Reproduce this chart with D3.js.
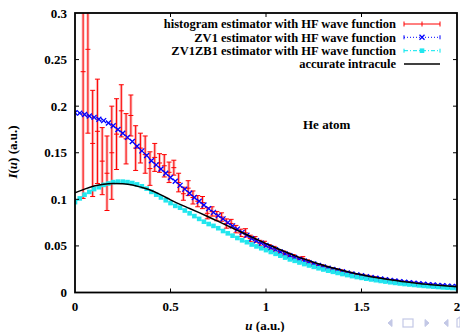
<!DOCTYPE html>
<html>
<head>
<meta charset="utf-8">
<script src="https://cdn.jsdelivr.net/npm/d3@7"></script>
<style>
  body { margin: 0; background: #fff; }
  text { font-family: "Liberation Serif", "Times New Roman", serif; font-weight: bold; font-size: 13px; }
  .legend text { font-size: 12.5px; }
</style>
</head>
<body>
<div id="chart"></div>
<script>
// grid for the two estimator curves (step 0.025)
const uFine = [0, 0.025, 0.05, 0.075, 0.1, 0.125, 0.15, 0.175, 0.2, 0.225, 0.25, 0.275, 0.3, 0.325, 0.35, 0.375,
    0.4, 0.425, 0.45, 0.475, 0.5, 0.525, 0.55, 0.575, 0.6, 0.625, 0.65, 0.675, 0.7, 0.725, 0.75, 0.775,
    0.8, 0.825, 0.85, 0.875, 0.9, 0.925, 0.95, 0.975, 1.0, 1.025, 1.05, 1.075, 1.1, 1.125, 1.15, 1.175,
    1.2, 1.225, 1.25, 1.275, 1.3, 1.325, 1.35, 1.375, 1.4, 1.425, 1.45, 1.475, 1.5, 1.525, 1.55, 1.575,
    1.6, 1.625, 1.65, 1.675, 1.7, 1.725, 1.75, 1.775, 1.8, 1.825, 1.85, 1.875, 1.9, 1.925, 1.95, 1.975, 2.0];

const zv1 = [0.193, 0.1925, 0.191, 0.1895, 0.188, 0.186, 0.1845, 0.182, 0.179, 0.175, 0.171, 0.1665, 0.162, 0.157, 0.152, 0.147,
    0.1415, 0.137, 0.1325, 0.128, 0.1235, 0.1195, 0.115, 0.111, 0.1065, 0.102, 0.098, 0.094, 0.090, 0.086, 0.0825, 0.079,
    0.075, 0.0715, 0.068, 0.0645, 0.0615, 0.058, 0.0555, 0.053, 0.0505, 0.048, 0.046, 0.0435, 0.0415, 0.0395, 0.0375, 0.0355,
    0.0338, 0.032, 0.0305, 0.029, 0.0275, 0.026, 0.0247, 0.0235, 0.0222, 0.021, 0.0199, 0.0189, 0.0179, 0.017, 0.0161, 0.0153,
    0.0145, 0.0137, 0.013, 0.0123, 0.0117, 0.011, 0.0105, 0.0099, 0.0094, 0.0089, 0.0084, 0.008, 0.0076, 0.0072, 0.0068, 0.0065, 0.0061];

const zv1zb1 = [0.097, 0.101, 0.105, 0.108, 0.111, 0.113, 0.1155, 0.117, 0.1185, 0.119, 0.119, 0.1185, 0.1175, 0.116, 0.114, 0.1115,
    0.108, 0.105, 0.102, 0.099, 0.096, 0.093, 0.091, 0.088, 0.085, 0.082, 0.079, 0.076, 0.0735, 0.0715, 0.069, 0.066,
    0.0635, 0.061, 0.0585, 0.056, 0.054, 0.0515, 0.0495, 0.0475, 0.0455, 0.0435, 0.0415, 0.0395, 0.0375, 0.0355, 0.034, 0.0322,
    0.0305, 0.029, 0.0275, 0.026, 0.0247, 0.0234, 0.0222, 0.021, 0.0198, 0.0187, 0.0176, 0.0166, 0.0157, 0.0148, 0.014, 0.0132,
    0.0124, 0.0117, 0.011, 0.0103, 0.0097, 0.0091, 0.0086, 0.0081, 0.0076, 0.0071, 0.0067, 0.0063, 0.0059, 0.0055, 0.0052, 0.0049, 0.0046];

// accurate intracule (step 0.05)
const uExact = [0, 0.05, 0.1, 0.15, 0.2, 0.25, 0.3, 0.35, 0.4, 0.45, 0.5, 0.55, 0.6, 0.65, 0.7, 0.75, 0.8, 0.85, 0.9, 0.95,
    1.0, 1.05, 1.1, 1.15, 1.2, 1.25, 1.3, 1.35, 1.4, 1.45, 1.5, 1.55, 1.6, 1.65, 1.7, 1.75, 1.8, 1.85, 1.9, 1.95, 2.0];
const exact = [0.107, 0.111, 0.1143, 0.1163, 0.117, 0.1167, 0.1155, 0.1127, 0.1095, 0.1048, 0.0995, 0.0946, 0.0902, 0.0857, 0.081,
    0.0763, 0.0715, 0.0667, 0.062, 0.0572, 0.0525, 0.048, 0.0437, 0.0396, 0.0358, 0.0324, 0.0292, 0.0263, 0.0237, 0.0212,
    0.019, 0.017, 0.0152, 0.0136, 0.0122, 0.0109, 0.0097, 0.0087, 0.0078, 0.007, 0.0063];

// histogram bins
const uBins = [0.0175, 0.0425, 0.0675, 0.0925, 0.1175, 0.1425, 0.1675, 0.1925, 0.2175, 0.2425, 0.2675, 0.2925, 0.3175, 0.3425,
    0.3675, 0.3925, 0.4175, 0.4425, 0.4675, 0.4925, 0.5175, 0.5425, 0.5675, 0.5925, 0.6175, 0.6425, 0.6675, 0.6925, 0.7175,
    0.7425, 0.7675, 0.7925, 0.8175, 0.8425, 0.8675, 0.8925, 0.9175, 0.9425, 0.9675, 0.9925, 1.0175, 1.0425, 1.0675, 1.0925,
    1.1175, 1.1425, 1.1675, 1.1925, 1.2175, 1.2425, 1.2675, 1.2925, 1.3175, 1.3425, 1.3675, 1.3925, 1.4175, 1.4425, 1.4675,
    1.4925, 1.5175, 1.5425, 1.5675, 1.5925, 1.6175, 1.6425, 1.6675, 1.6925, 1.7175, 1.7425, 1.7675, 1.7925, 1.8175, 1.8425,
    1.8675, 1.8925, 1.9175, 1.9425, 1.9675, 1.9925];
const histo = [0, 0.237, 0.261, 0.160, 0.173, 0.141, 0.128, 0.150, 0.170, 0.195, 0.165, 0.190, 0.155, 0.155,
    0.148, 0.133, 0.145, 0.139, 0.136, 0.129, 0.134, 0.118, 0.106, 0.112, 0.102, 0.098, 0.0965, 0.085, 0.087,
    0.082, 0.081, 0.074, 0.074, 0.068, 0.064, 0.064, 0.058, 0.057, 0.053, 0.052, 0.0485, 0.047, 0.0435, 0.042,
    0.040, 0.0385, 0.036, 0.0365, 0.033, 0.0305, 0.029, 0.028, 0.0265, 0.025, 0.024, 0.0228, 0.0212, 0.0203, 0.019,
    0.0183, 0.0175, 0.0165, 0.0158, 0.015, 0.0141, 0.0131, 0.0126, 0.012, 0.0112, 0.0106, 0.0102, 0.0095, 0.0091, 0.0085,
    0.0082, 0.0076, 0.0073, 0.0068, 0.0066, 0.0062];
const histoErr = [0, 0.136, 0.090, 0.057, 0.056, 0.036, 0.040, 0.050, 0.038, 0.028, 0.027, 0.022, 0.024, 0.016,
    0.020, 0.018, 0.015, 0.010, 0.012, 0.011, 0.008, 0.010, 0.007, 0.008, 0.007, 0.006, 0.0065, 0.006, 0.005,
    0.005, 0.0045, 0.005, 0.0045, 0.004, 0.004, 0.0045, 0.0035, 0.003, 0.003, 0.003, 0.0028, 0.0025, 0.0025, 0.0025,
    0.0022, 0.0022, 0.002, 0.002, 0.002, 0.0018, 0.0018, 0.0017, 0.0016, 0.0016, 0.0015, 0.0015, 0.0014, 0.0014, 0.0013,
    0.0013, 0.0012, 0.0012, 0.0012, 0.0011, 0.0011, 0.001, 0.001, 0.001, 0.001, 0.001, 0.0009, 0.0009, 0.0009, 0.0008,
    0.0008, 0.0008, 0.0008, 0.0007, 0.0007, 0.0007];

const xTicks = [0, 0.5, 1, 1.5, 2];
const yTicks = [0, 0.05, 0.1, 0.15, 0.2, 0.25, 0.3];
const legendLabels = [
    "histogram estimator with HF wave function",
    "ZV1 estimator with HF wave function",
    "ZV1ZB1 estimator with HF wave function",
    "accurate intracule"
];

const W = 460, H = 332;
const plot = { left: 75, right: 457, top: 13, bottom: 292.5 };

const svg = d3.select('#chart').append('svg')
    .attr('width', W).attr('height', H);

svg.append('rect').attr('width', W).attr('height', H).attr('fill', '#fff');

const x = d3.scaleLinear().domain([0, 2]).range([plot.left, plot.right]);
const y = d3.scaleLinear().domain([0, 0.3]).range([plot.bottom, plot.top]);

svg.append('clipPath').attr('id', 'clip')
    .append('rect')
    .attr('x', plot.left).attr('y', plot.top)
    .attr('width', plot.right - plot.left).attr('height', plot.bottom - plot.top);

const graph = svg.append('g').attr('clip-path', 'url(#clip)');

// histogram with error bars
const bins = uBins.map((u, i) => ({ u, v: histo[i], e: histoErr[i] }));
const bars = graph.append('g');
bars.selectAll('line.halo').data(bins).enter().append('line')
    .attr('x1', d => x(d.u)).attr('x2', d => x(d.u))
    .attr('y1', d => y(d.v - d.e)).attr('y2', d => y(d.v + d.e))
    .attr('stroke', '#f7a3a3').attr('stroke-width', 3).attr('stroke-opacity', 0.7);
bars.selectAll('line.bar').data(bins).enter().append('line')
    .attr('x1', d => x(d.u)).attr('x2', d => x(d.u))
    .attr('y1', d => y(d.v - d.e)).attr('y2', d => y(d.v + d.e))
    .attr('stroke', '#ff0000').attr('stroke-width', 1);
['lo', 'hi', 'mid'].forEach(k => {
    bars.selectAll('line.' + k).data(bins).enter().append('line')
        .attr('x1', d => x(d.u) - 2.5).attr('x2', d => x(d.u) + 2.5)
        .attr('y1', d => y(k === 'lo' ? d.v - d.e : k === 'hi' ? d.v + d.e : d.v))
        .attr('y2', d => y(k === 'lo' ? d.v - d.e : k === 'hi' ? d.v + d.e : d.v))
        .attr('stroke', '#ff0000').attr('stroke-width', 1);
});

// ZV1 estimator
const blueData = uFine.map((u, i) => ({ u, v: zv1[i] }));
const line = d3.line().x(d => x(d.u)).y(d => y(d.v));
graph.append('path').datum(blueData)
    .attr('d', line).attr('fill', 'none')
    .attr('stroke', '#0000ff').attr('stroke-width', 1).attr('stroke-dasharray', '1,2');
graph.selectAll('path.xm').data(blueData).enter().append('path')
    .attr('d', 'M-2.5,-2.5L2.5,2.5M-2.5,2.5L2.5,-2.5')
    .attr('transform', d => `translate(${x(d.u)},${y(d.v)})`)
    .attr('stroke', '#0000ff').attr('stroke-width', 1.3).attr('fill', 'none');

// ZV1ZB1 estimator
const cyanData = uFine.map((u, i) => ({ u, v: zv1zb1[i] }));
graph.append('path').datum(cyanData)
    .attr('d', line).attr('fill', 'none')
    .attr('stroke', '#00e5ee').attr('stroke-width', 1).attr('stroke-dasharray', '4,2,1,2');
graph.selectAll('rect.sq').data(cyanData).enter().append('rect')
    .attr('x', d => x(d.u) - 2.3).attr('y', d => y(d.v) - 2.3)
    .attr('width', 4.6).attr('height', 4.6)
    .attr('fill', '#22e6ee');

// accurate intracule
const exactData = uExact.map((u, i) => ({ u, v: exact[i] }));
graph.append('path').datum(exactData)
    .attr('d', line.curve(d3.curveMonotoneX)).attr('fill', 'none')
    .attr('stroke', '#000').attr('stroke-width', 1.5);

// frame + ticks
const axes = svg.append('g');
axes.append('rect')
    .attr('x', plot.left).attr('y', plot.top)
    .attr('width', plot.right - plot.left).attr('height', plot.bottom - plot.top)
    .attr('fill', 'none').attr('stroke', '#000').attr('stroke-width', 1.8);

axes.selectAll('g.xt').data(xTicks.slice(1, -1)).enter().append('g')
    .each(function (t) {
        const g = d3.select(this);
        g.append('line').attr('x1', x(t)).attr('x2', x(t)).attr('y1', plot.bottom).attr('y2', plot.bottom - 4)
            .attr('stroke', '#000').attr('stroke-width', 1);
        g.append('line').attr('x1', x(t)).attr('x2', x(t)).attr('y1', plot.top).attr('y2', plot.top + 4)
            .attr('stroke', '#000').attr('stroke-width', 1);
    });
axes.selectAll('g.yt').data(yTicks.slice(1, -1)).enter().append('g')
    .each(function (t) {
        const g = d3.select(this);
        g.append('line').attr('x1', plot.left).attr('x2', plot.left + 4).attr('y1', y(t)).attr('y2', y(t))
            .attr('stroke', '#000').attr('stroke-width', 1);
        g.append('line').attr('x1', plot.right).attr('x2', plot.right - 4).attr('y1', y(t)).attr('y2', y(t))
            .attr('stroke', '#000').attr('stroke-width', 1);
    });

axes.selectAll('text.xl').data(xTicks).enter().append('text')
    .attr('x', d => x(d)).attr('y', 311)
    .attr('text-anchor', 'middle')
    .text(d => d3.format('~g')(d));
axes.selectAll('text.yl').data(yTicks).enter().append('text')
    .attr('x', 67).attr('y', d => y(d) + 4.5)
    .attr('text-anchor', 'end')
    .text(d => d3.format('~g')(d));

// axis titles
const xt = svg.append('text').attr('x', 265).attr('y', 330).attr('text-anchor', 'middle');
xt.append('tspan').attr('font-style', 'italic').text('u');
xt.append('tspan').text(' (a.u.)');

const yt = svg.append('text')
    .attr('transform', 'translate(17,152) rotate(-90)')
    .attr('text-anchor', 'middle');
yt.append('tspan').attr('font-style', 'italic').text('I');
yt.append('tspan').text('(');
yt.append('tspan').attr('font-style', 'italic').text('u');
yt.append('tspan').text(') (a.u.)');

svg.append('text').attr('x', 303).attr('y', 129).text('He atom');

// legend
const legend = svg.append('g').attr('class', 'legend');
const rowY = [24, 37.3, 50.7, 64];
legendLabels.forEach((lab, i) => {
    legend.append('text').attr('x', 396).attr('y', rowY[i] + 4.3)
        .attr('text-anchor', 'end').text(lab);
});
const lx0 = 404, lx1 = 440, lxm = 422;
// histogram sample
legend.append('line').attr('x1', lx0).attr('x2', lx1).attr('y1', rowY[0]).attr('y2', rowY[0])
    .attr('stroke', '#ff0000').attr('stroke-width', 1);
[lx0, lxm, lx1].forEach(px => legend.append('line')
    .attr('x1', px).attr('x2', px).attr('y1', rowY[0] - 2.5).attr('y2', rowY[0] + 2.5)
    .attr('stroke', '#ff0000').attr('stroke-width', 1));
// ZV1 sample
legend.append('line').attr('x1', lx0).attr('x2', lx1).attr('y1', rowY[1]).attr('y2', rowY[1])
    .attr('stroke', '#0000ff').attr('stroke-width', 1).attr('stroke-dasharray', '1,2');
[lx0, lx1].forEach(px => legend.append('line')
    .attr('x1', px).attr('x2', px).attr('y1', rowY[1] - 2).attr('y2', rowY[1] + 2)
    .attr('stroke', '#0000ff').attr('stroke-width', 1));
legend.append('path').attr('d', 'M-2.5,-2.5L2.5,2.5M-2.5,2.5L2.5,-2.5')
    .attr('transform', `translate(${lxm},${rowY[1]})`)
    .attr('stroke', '#0000ff').attr('stroke-width', 1.3);
// ZV1ZB1 sample
legend.append('line').attr('x1', lx0).attr('x2', lx1).attr('y1', rowY[2]).attr('y2', rowY[2])
    .attr('stroke', '#00e5ee').attr('stroke-width', 1).attr('stroke-dasharray', '4,2,1,2');
[lx0, lx1].forEach(px => legend.append('line')
    .attr('x1', px).attr('x2', px).attr('y1', rowY[2] - 2).attr('y2', rowY[2] + 2)
    .attr('stroke', '#00e5ee').attr('stroke-width', 1));
legend.append('rect').attr('x', lxm - 2.3).attr('y', rowY[2] - 2.3).attr('width', 4.6).attr('height', 4.6)
    .attr('fill', '#22e6ee');
// accurate sample
legend.append('line').attr('x1', lx0).attr('x2', lx1).attr('y1', rowY[3]).attr('y2', rowY[3])
    .attr('stroke', '#000').attr('stroke-width', 1.5);

// beamer navigation symbols
const nav = svg.append('g').attr('fill', '#c3c8e6').attr('stroke', '#c3c8e6');
nav.append('path').attr('d', 'M392,319.5L388,323L392,326.5Z');
nav.append('rect').attr('x', 403).attr('y', 319).attr('width', 10).attr('height', 8).attr('fill', 'none').attr('stroke-width', 1.2);
nav.append('path').attr('d', 'M425,319.5L429,323L425,326.5Z');
nav.append('path').attr('d', 'M448,319.5L444,323L448,326.5Z');
nav.append('path').attr('d', 'M457,319L460,317V327H457Z').attr('fill', 'none').attr('stroke-width', 1.2);
</script>
</body>
</html>
